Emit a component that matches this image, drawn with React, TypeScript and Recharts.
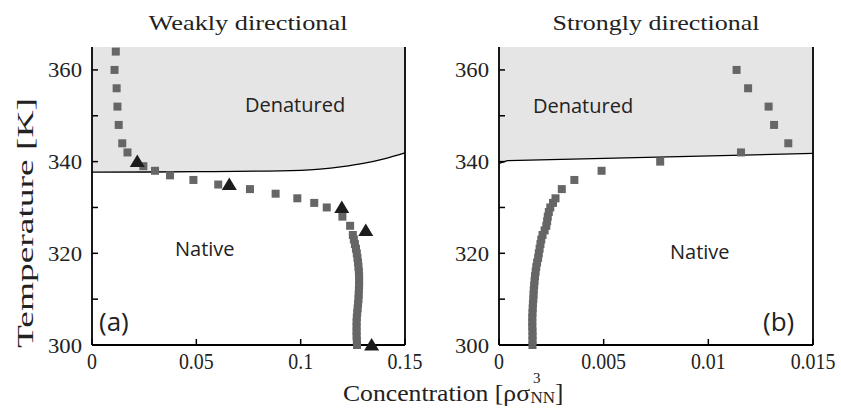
import React from 'react';
import { ComposedChart, Area, Scatter, XAxis, YAxis, ReferenceLine } from 'recharts';

const SERIF = "'Liberation Serif', 'Times New Roman', Times, serif";
const SANS = "'Open Sans', 'Noto Sans', sans-serif";

// shared temperature axis
const TEMP_TICKS = [300, 310, 320, 330, 340, 350, 360];

// (a) weakly directional
const WEAK_X_TICKS = [0, 0.05, 0.1, 0.15];
const weakSquareT = [
  364, 360, 356, 352, 348, 344, 342, 339, 338, 337, 336, 335, 334, 333, 332, 331, 330, 328, 326,
  324, 323, 322, 321, 320, 319, 318, 317, 316, 315, 314, 313, 312, 311, 310, 309, 308, 307, 306,
  305, 304, 303, 302, 301, 300,
];
const weakSquareX = [
  0.0114, 0.0108, 0.0118, 0.0122, 0.0128, 0.0145, 0.017, 0.0246, 0.0302, 0.0374, 0.0486, 0.0605,
  0.0757, 0.088, 0.0984, 0.1065, 0.1125, 0.12, 0.1237,
  0.125, 0.1255, 0.126, 0.1265, 0.1269, 0.1272, 0.1275, 0.1277, 0.1279, 0.128, 0.128, 0.128,
  0.1279, 0.1278, 0.1277, 0.1275, 0.1273, 0.1271, 0.1269, 0.1268, 0.1268, 0.1268, 0.1268, 0.1269,
  0.127,
];
const weakTriangleT = [340, 335, 330, 325, 300];
const weakTriangleX = [0.0217, 0.0658, 0.1197, 0.1312, 0.134];
const weakBoundaryX = [0, 0.05, 0.1, 0.12, 0.13, 0.14, 0.15];
const weakBoundaryT = [337.7, 337.8, 338.1, 338.9, 339.6, 340.6, 341.9];

// (b) strongly directional
const STRONG_X_TICKS = [0, 0.005, 0.01, 0.015];
const strongSquareT = [
  360, 356, 352, 348, 344, 342, 340, 338, 336, 334, 332,
  331, 330, 329, 328, 327, 326, 325, 324, 323, 322, 321, 320, 319, 318, 317, 316, 315, 314, 313,
  312, 311, 310, 309, 308, 307, 306, 305, 304, 303, 302, 301, 300,
];
const strongSquareX = [
  0.01135, 0.0119, 0.01288, 0.01314, 0.01382, 0.01156, 0.0077, 0.0049, 0.0036, 0.003, 0.0027,
  0.00258, 0.00245, 0.00238, 0.00233, 0.0023, 0.00226, 0.00218, 0.00208, 0.00202, 0.00198,
  0.00194, 0.0019, 0.00187, 0.00182, 0.00178, 0.00175, 0.00172, 0.0017, 0.00168, 0.00166,
  0.00165, 0.00164, 0.00162, 0.00161, 0.0016, 0.00159, 0.00159, 0.00159, 0.0016, 0.0016, 0.0016,
  0.0016,
];
const strongBoundaryX = [0, 0.0004, 0.015];
const strongBoundaryT = [339.6, 340.2, 341.8];

const rows = (xs: number[], ts: number[]) => xs.map((x, i) => ({ x, t: ts[i] }));

const SquareDot = (p: any) => (
  <rect x={p.cx - 4} y={p.cy - 4} width={8} height={8} fill="#666" />
);
const TriangleDot = (p: any) => (
  <polygon
    points={`${p.cx},${p.cy - 7} ${p.cx + 7.5},${p.cy + 5.5} ${p.cx - 7.5},${p.cy + 5.5}`}
    fill="#1c1c1c"
  />
);

const serifStyle = { fontFamily: SERIF };

// narrow number labels, like the condensed serif digits of the original
const numWidth = (s: string, size: number) =>
  size * (0.6 * s.replace('.', '').length + (s.includes('.') ? 0.3 : 0));

const TempTick = (p: any) => {
  const { x, y, payload } = p;
  const v = payload.value;
  return (
    <g>
      <line x1={x + 10} x2={x + 16} y1={y} y2={y} stroke="#000" strokeWidth={1.5} />
      {v % 20 === 0 && (
        <text
          x={x}
          y={y + 7.5}
          textAnchor="end"
          style={serifStyle}
          fontSize={21}
          fill="#222"
          textLength={34}
          lengthAdjust="spacingAndGlyphs"
        >
          {v}
        </text>
      )}
    </g>
  );
};

const ConcTick = (p: any) => {
  const { x, y, payload } = p;
  const s = String(payload.value);
  return (
    <g>
      <line x1={x} x2={x} y1={y} y2={y - 6} stroke="#000" strokeWidth={1.5} />
      <text
        x={x}
        y={y + 24}
        textAnchor="middle"
        style={serifStyle}
        fontSize={23}
        fill="#222"
        textLength={numWidth(s, 23) * 0.72}
        lengthAdjust="spacingAndGlyphs"
      >
        {s}
      </text>
    </g>
  );
};

const TopTick = (p: any) => (
  <line x1={p.x} x2={p.x} y1={p.y} y2={p.y + 6} stroke="#000" strokeWidth={1.5} />
);

const axisLine = { stroke: '#000', strokeWidth: 1.8 };

const Panel = ({ width, left, right, xMax, xTicks, squares, triangles, boundary, curve }: any) => (
  <ComposedChart width={width} height={410} margin={{ top: 47, right, bottom: 25, left }}>
    <Area
      data={boundary}
      dataKey="t"
      type={curve}
      baseValue={365}
      fill="#e5e5e5"
      fillOpacity={1}
      stroke="#000"
      strokeWidth={1.3}
      dot={false}
      activeDot={false}
      isAnimationActive={false}
    />
    <XAxis
      dataKey="x"
      type="number"
      domain={[0, xMax]}
      ticks={xTicks}
      interval={0}
      height={40}
      tickSize={0}
      tickMargin={0}
      tickLine={false}
      axisLine={axisLine}
      tick={ConcTick}
    />
    <XAxis
      xAxisId="top"
      orientation="top"
      type="number"
      domain={[0, xMax]}
      ticks={xTicks}
      interval={0}
      height={0}
      tickSize={0}
      tickMargin={0}
      tickLine={false}
      axisLine={axisLine}
      tick={TopTick}
    />
    <YAxis
      dataKey="t"
      type="number"
      domain={[300, 365]}
      ticks={TEMP_TICKS}
      interval={0}
      width={60}
      tickSize={0}
      tickMargin={10}
      tickLine={false}
      axisLine={axisLine}
      tick={TempTick}
    />
    <ReferenceLine x={xMax} stroke="#000" strokeWidth={1.8} />
    <Scatter data={squares} shape={SquareDot} isAnimationActive={false} />
    {triangles && <Scatter data={triangles} shape={TriangleDot} isAnimationActive={false} />}
  </ComposedChart>
);

export default function App() {
  return (
    <div style={{ position: 'absolute', left: 0, top: 0, width: 841, height: 410, background: '#fff', overflow: 'hidden' }}>
      <div style={{ position: 'absolute', left: 0, top: 0 }}>
        <Panel
          width={440}
          left={32}
          right={35}
          xMax={0.15}
          xTicks={WEAK_X_TICKS}
          squares={rows(weakSquareX, weakSquareT)}
          triangles={rows(weakTriangleX, weakTriangleT)}
          boundary={rows(weakBoundaryX, weakBoundaryT)}
          curve="monotone"
        />
      </div>
      <div style={{ position: 'absolute', left: 420, top: 0 }}>
        <Panel
          width={421}
          left={19}
          right={28}
          xMax={0.015}
          xTicks={STRONG_X_TICKS}
          squares={rows(strongSquareX, strongSquareT)}
          boundary={rows(strongBoundaryX, strongBoundaryT)}
          curve="linear"
        />
      </div>
      <svg
        width={841}
        height={410}
        style={{ position: 'absolute', left: 0, top: 0, pointerEvents: 'none' }}
      >
        <g style={serifStyle} fill="#222">
          <text x={248} y={30} fontSize={21} textAnchor="middle" textLength={199} lengthAdjust="spacingAndGlyphs">
            Weakly directional
          </text>
          <text x={656} y={30} fontSize={21} textAnchor="middle" textLength={207} lengthAdjust="spacingAndGlyphs">
            Strongly directional
          </text>
          <text
            x={33}
            y={223}
            fontSize={24}
            textAnchor="middle"
            transform="rotate(-90 33 223)"
            textLength={250}
            lengthAdjust="spacingAndGlyphs"
          >
            Temperature [K]
          </text>
          <text x={343} y={401} fontSize={24}>
            <tspan textLength={187} lengthAdjust="spacingAndGlyphs">Concentration [ρσ</tspan>
            <tspan dx={3} dy={-18} fontSize={15}>3</tspan>
            <tspan dx={-10} dy={20} fontSize={17}>NN</tspan>
            <tspan dy={-2} fontSize={25}>]</tspan>
          </text>
        </g>
        <g style={{ fontFamily: SANS }} fill="#222">
          <text x={245} y={112} fontSize={20}>Denatured</text>
          <text x={533} y={113} fontSize={20}>Denatured</text>
          <text x={175} y={256} fontSize={20}>Native</text>
          <text x={670} y={259} fontSize={20}>Native</text>
          <text x={99} y={331} fontSize={26}>(a)</text>
          <text x={763} y={331} fontSize={26}>(b)</text>
        </g>
      </svg>
    </div>
  );
}
